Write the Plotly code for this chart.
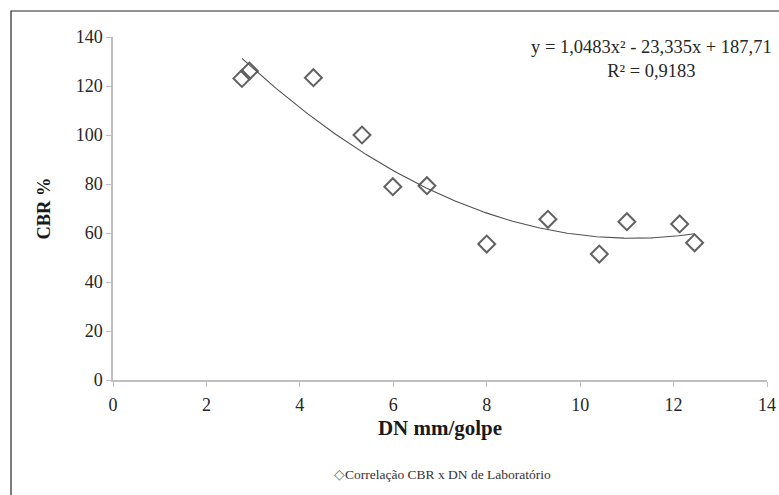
import numpy as np
import plotly.graph_objects as go

# Penetration rate (DN, mm/blow) and laboratory CBR (%)
dn_mm_golpe = [2.76, 2.92, 4.29, 5.33, 5.99, 6.72, 8.00, 9.31, 10.41, 11.00, 12.13, 12.45]
cbr_pct = [123.1, 126.1, 123.4, 100.0, 78.9, 79.3, 55.5, 65.6, 51.4, 64.6, 63.7, 56.0]

# Quadratic trend reported for the series
coef_a, coef_b, coef_c = 1.0483, -23.335, 187.71
r_squared = 0.9183

x_ticks = [0, 2, 4, 6, 8, 10, 12, 14]
y_ticks = [0, 20, 40, 60, 80, 100, 120, 140]

serif = "Liberation Serif"
series_name = "Correlação CBR x DN de Laboratório"
marker_grey = "#616161"

xs = np.linspace(min(dn_mm_golpe), max(dn_mm_golpe), 200)
ys = coef_a * xs**2 + coef_b * xs + coef_c

fig = go.Figure()
fig.add_trace(go.Scatter(
    x=dn_mm_golpe, y=cbr_pct, mode="markers", name=series_name,
    showlegend=False, cliponaxis=False,
    marker=dict(symbol="diamond-open", size=13, color=marker_grey, line=dict(width=2, color=marker_grey)),
))
fig.add_trace(go.Scatter(
    x=xs, y=ys, mode="lines", showlegend=False, hoverinfo="skip",
    line=dict(color="#505050", width=1.1),
))

eq_text = (f"y = {coef_a:.4f}x² - {abs(coef_b):.3f}x + {coef_c:.2f}".replace(".", ",")
           + "<br>" + f"R² = {r_squared:.4f}".replace(".", ","))

# compact legend line: diamond symbol followed by the series name
legend_text = f"<span style='color:#707070'>◇</span>{series_name}"

fig.update_layout(
    width=779, height=495,
    margin=dict(l=113, r=12, t=37, b=115),
    paper_bgcolor="white", plot_bgcolor="white",
    font=dict(family=serif, color="#262626", size=18),
    showlegend=False,
    xaxis=dict(range=[0, 14], tickvals=x_ticks, showgrid=False, zeroline=False, automargin=False,
               showline=True, linecolor="#bfbfbf", linewidth=1.5,
               ticks="outside", ticklen=5, tickcolor="#bfbfbf", ticklabelstandoff=3,
               tickfont=dict(size=18, family=serif, color="#262626"),
               title=dict(text="<b>DN mm/golpe</b>", font=dict(size=21, family=serif, color="#1a1a1a"), standoff=6)),
    yaxis=dict(range=[0, 140], tickvals=y_ticks, showgrid=False, zeroline=False, automargin=False,
               showline=True, linecolor="#bfbfbf", linewidth=1.5,
               ticks="outside", ticklen=5, tickcolor="#bfbfbf",
               tickfont=dict(size=18, family=serif, color="#262626"),
               title=dict(text="<b>CBR %</b>", font=dict(size=18.5, family=serif, color="#1a1a1a"), standoff=20)),
    annotations=[
        dict(xref="paper", yref="paper", x=(774 - 113) / 654, y=(380 - 35) / 343,
             xanchor="right", yanchor="top", align="center", showarrow=False,
             text=eq_text, font=dict(size=18.5, family=serif, color="#262626")),
        dict(xref="paper", yref="paper", x=(442 - 113) / 654, y=(380 - 474) / 343,
             xanchor="center", yanchor="middle", showarrow=False,
             text=legend_text, font=dict(size=13.5, family=serif, color="#333333")),
    ],
    shapes=[dict(
        type="rect", xref="paper", yref="paper", layer="above",
        x0=(11 - 113) / 654, x1=(790 - 113) / 654,
        y0=(380 - 510) / 343, y1=(380 - 11) / 343,
        line=dict(color="#262626", width=1.2), fillcolor="rgba(0,0,0,0)",
    )],
)

fig.write_html("out.html")
